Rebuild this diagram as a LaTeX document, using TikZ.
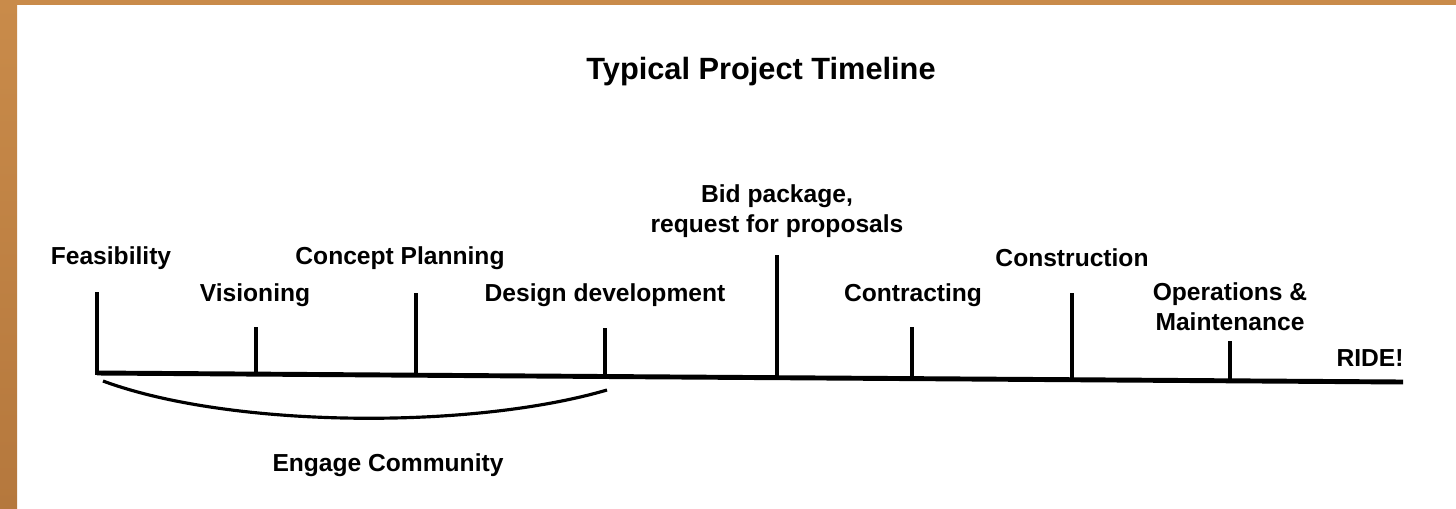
\documentclass[tikz,border=0pt]{standalone}
\usepackage{fontspec}
\setmainfont{Liberation Sans}
\definecolor{frametop}{HTML}{C98B4A}
\definecolor{framebot}{HTML}{B5783D}
\begin{document}
\begin{tikzpicture}[x=0.02cm,y=-0.02cm,
    axis/.style={line width=2.8pt},
    tick/.style={line width=2.2pt},
    bow/.style={line width=1.8pt},
    label/.style={font=\fontsize{14}{17}\selectfont\bfseries,align=center,inner sep=0pt}]
    \useasboundingbox (0,0) rectangle (1456,508);
    % frame
    \fill[frametop] (0,0) rectangle (1456,5);
    \shade[top color=frametop,bottom color=framebot] (0,0) rectangle (17,508);

    \node[font=\fontsize{17.5}{20}\selectfont\bfseries] (title) at (761,72) {Typical Project Timeline};

    \coordinate (start) at (97,373);
    \coordinate (finish) at (1403,382);
    \draw[axis] (start) -- (finish);

    \foreach \i/\x/\y in {1/97/292,2/256/327,3/416/293,4/605/328,5/777/255,6/912/327,7/1072/293,8/1230/341} {
        \coordinate (b\i) at (\x,{375+0.0069*(\x-97)});
        \coordinate (t\i) at (\x,\y);
        \draw[tick] (b\i) -- (t\i);
    }

    \node[label] (feas) at (111,258) {Feasibility};
    \node[label] (vis) at (255,295) {Visioning};
    \node[label] (concept) at (400,258) {Concept Planning};
    \node[label] (design) at (605,295) {Design development};
    \node[label] (bid) at (777,211) {Bid package,\\request for proposals};
    \node[label] (contract) at (913,295) {Contracting};
    \node[label] (constr) at (1072,258) {Construction};
    \node[label] (ops) at (1230,307) {Operations \&\\Maintenance};
    \node[label] (ride) at (1370,358) {RIDE!};

    \coordinate (c1) at (103,381);
    \coordinate (c2) at (607,390);
    \draw[bow] (c1) .. controls (230,428) and (470,430) .. (c2);
    \node[label] (engage) at (388,465) {Engage Community};
\end{tikzpicture}
\end{document}
